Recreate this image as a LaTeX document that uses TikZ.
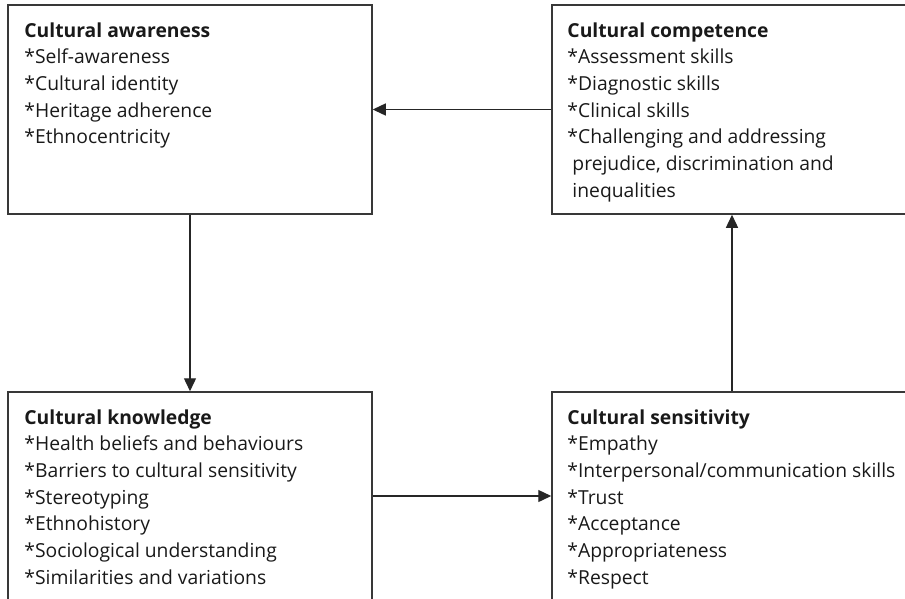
\documentclass[tikz,border=0pt]{standalone}
\usepackage{fontspec}
\setmainfont{Open Sans}
\usetikzlibrary{arrows.meta}
\begin{document}
\begin{tikzpicture}[x=1pt,y=-1pt,
  box/.style={draw=black!78, line width=1.5pt, inner sep=0pt, minimum height=#1},
  boxw/.style={minimum width=#1},
  txt/.style={anchor=north west, inner sep=0pt, align=left, text=black!90,
    font=\fontsize{19.3}{26.7}\selectfont},
  conn/.style={draw=black!85, line width=1.4pt, -{Triangle[length=13pt,width=12pt]}}]
\clip (0,0) rectangle (905,598);
\node[box=209, boxw=364] (tl) at (190,109.5) {};
\node[box=209, boxw=360] (tr) at (732,109.5) {};
\node[box=208, boxw=364] (bl) at (190,496) {};
\node[box=208, boxw=360] (br) at (732,496) {};
\node[txt] (tlt) at ([shift={(17,18)}]tl.north west) {\textbf{Cultural awareness}\\
*Self-awareness\\*Cultural identity\\*Heritage adherence\\*Ethnocentricity};
\node[txt] (trt) at ([shift={(16,18)}]tr.north west) {\textbf{Cultural competence}\\
*Assessment skills\\*Diagnostic skills\\*Clinical skills\\*Challenging and addressing\\
\hspace*{5pt}prejudice, discrimination and\\\hspace*{5pt}inequalities};
\node[txt] (blt) at ([shift={(17,18)}]bl.north west) {\textbf{Cultural knowledge}\\
*Health beliefs and behaviours\\*Barriers to cultural sensitivity\\*Stereotyping\\
*Ethnohistory\\*Sociological understanding\\*Similarities and variations};
\node[txt] (brt) at ([shift={(16,18)}]br.north west) {\textbf{Cultural sensitivity}\\
*Empathy\\*Interpersonal/communication skills\\*Trust\\*Acceptance\\
*Appropriateness\\*Respect};
\draw[conn] (tr.west) -- (tl.east);
\draw[conn] (tl.south) -- (bl.north);
\draw[conn] (bl.east) -- (br.west);
\draw[conn] (br.north) -- (tr.south);
\end{tikzpicture}
\end{document}
